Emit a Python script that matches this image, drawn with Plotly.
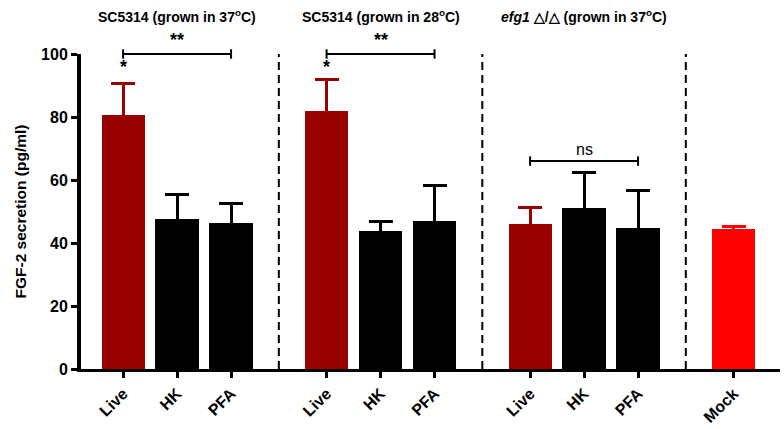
import plotly.graph_objects as go

# ---- data ----
groups = ["SC5314 (grown in 37<sup>o</sup>C)", "SC5314 (grown in 28<sup>o</sup>C)",
          "<i>efg1</i> △/△ (grown in 37<sup>o</sup>C)", ""]
group_of = [0, 0, 0, 1, 1, 1, 2, 2, 2, 3]
index_in_group = [0, 1, 2, 0, 1, 2, 0, 1, 2, 0]
categories = ["Live", "HK", "PFA", "Live", "HK", "PFA", "Live", "HK", "PFA", "Mock"]
means = [80.5, 47.6, 46.5, 82.0, 43.8, 47.0, 46.0, 51.0, 44.8, 44.5]
errors = [10.0, 7.9, 5.9, 9.8, 2.9, 11.4, 5.3, 11.5, 12.0, 0.8]
kinds = ["live", "dead", "dead", "live", "dead", "dead", "live", "dead", "dead", "mock"]
# significance: (from index, to index, y level, label)
brackets = [(0, 2, 100, "**"), (3, 5, 100, "**"), (6, 8, 66, "ns")]
single_stars = [(0, 96, "*"), (3, 96, "*")]
y_ticks = [0, 20, 40, 60, 80, 100]

# ---- layout helpers ----
GROUP_GAP = 3.77
xpos = [g * GROUP_GAP + i for g, i in zip(group_of, index_in_group)]
colors = {"live": "#990000", "dead": "#000000", "mock": "#FF0000"}
FONT = "Liberation Sans, Arial, sans-serif"
YMAX = 100

fig = go.Figure()
for kind in ["live", "dead", "mock"]:
    idx = [k for k, kd in enumerate(kinds) if kd == kind]
    fig.add_trace(go.Bar(
        x=[xpos[k] for k in idx], y=[means[k] for k in idx],
        width=0.8, marker=dict(color=colors[kind], line=dict(width=0)),
        error_y=dict(type="data", symmetric=True,
                     array=[errors[k] for k in idx],
                     color=colors[kind], thickness=3, width=12),
        showlegend=False, hoverinfo="skip"))

shapes = []
# dashed separators midway between groups
for g in range(1, 4):
    last_prev = max(xpos[k] for k in range(len(xpos)) if group_of[k] == g - 1)
    first = min(xpos[k] for k in range(len(xpos)) if group_of[k] == g)
    xm = (last_prev + first) / 2
    shapes.append(dict(type="line", xref="x", yref="y", x0=xm, x1=xm, y0=0, y1=YMAX,
                       line=dict(color="black", width=2, dash="8px,5px")))

annotations = []
for a, b, yv, lab in brackets:
    yp = yv / YMAX
    shapes.append(dict(type="line", xref="x", yref="paper", x0=xpos[a], x1=xpos[b],
                       y0=yp, y1=yp, line=dict(color="black", width=2)))
    for xe in (xpos[a], xpos[b]):
        shapes.append(dict(type="line", xref="x", yref="paper", x0=xe, x1=xe,
                           y0=yp - 0.015, y1=yp + 0.015, line=dict(color="black", width=2)))
    annotations.append(dict(x=(xpos[a] + xpos[b]) / 2, y=yp, xref="x", yref="paper",
                            text=("<b>%s</b>" % lab) if lab != "ns" else lab,
                            showarrow=False, yanchor="bottom", yshift=2 if lab != "ns" else 1,
                            font=dict(size=18 if lab != "ns" else 16, color="black", family=FONT)))
for k, yv, lab in single_stars:
    annotations.append(dict(x=xpos[k], y=yv / YMAX, xref="x", yref="paper", text="<b>%s</b>" % lab,
                            showarrow=False, yanchor="middle",
                            font=dict(size=18, color="black", family=FONT)))

for g, title in enumerate(groups):
    if not title:
        continue
    members = [xpos[k] for k in range(len(xpos)) if group_of[k] == g]
    annotations.append(dict(x=sum(members) / len(members), y=1.12, xref="x", yref="paper",
                            text="<b>%s</b>" % title, showarrow=False, yanchor="middle",
                            font=dict(size=14, color="black", family=FONT)))

fig.update_layout(
    width=784, height=429,
    margin=dict(l=81, r=4, t=54, b=60),
    paper_bgcolor="white", plot_bgcolor="white",
    shapes=shapes, annotations=annotations,
    font=dict(family=FONT, color="black"),
    bargap=0,
)
fig.update_xaxes(
    range=[-0.78, 12.17], tickvals=xpos, ticktext=["<b>%s</b>" % c for c in categories],
    tickangle=-45, ticks="outside", ticklen=6, tickwidth=3, tickcolor="black",
    showline=True, linecolor="black", linewidth=3, showgrid=False, zeroline=False,
    tickfont=dict(size=16, color="black", family=FONT),
)
fig.update_yaxes(
    range=[0, YMAX], tickvals=y_ticks, ticktext=["<b>%d</b>" % v for v in y_ticks],
    ticks="outside", ticklen=6, tickwidth=3, tickcolor="black",
    showline=True, linecolor="black", linewidth=4, showgrid=False, zeroline=False,
    tickfont=dict(size=16, color="black", family=FONT),
    title=dict(text="<b>FGF-2 secretion (pg/ml)</b>", font=dict(size=15.5, color="black", family=FONT),
               standoff=12),
)
fig.write_html("out.html", config={"displayModeBar": False},
               post_script="document.body.style.margin='0';")
